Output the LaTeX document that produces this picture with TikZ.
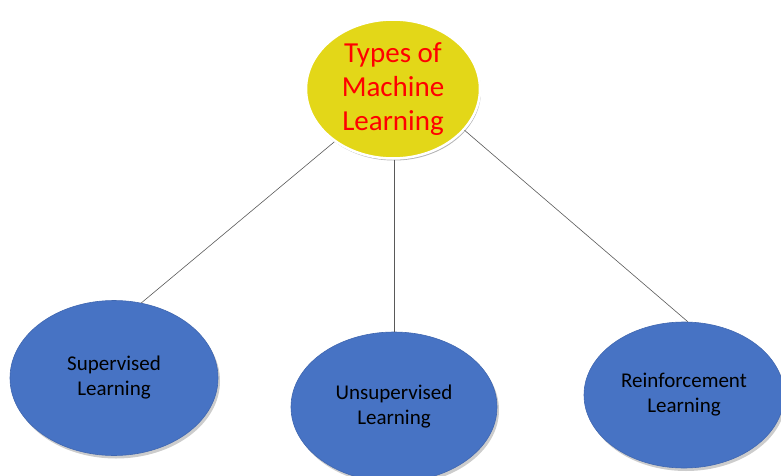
\documentclass[tikz,border=0pt]{standalone}
\usepackage{fontspec}
\setmainfont{Carlito}
\usetikzlibrary{shapes.geometric,shadows}

\definecolor{ballyellow}{HTML}{E3D718}
\definecolor{ballblue}{HTML}{4773C4}
\definecolor{linegray}{HTML}{595959}

\begin{document}
\begin{tikzpicture}[x=1pt,y=1pt]
    \tikzset{topic/.style = {shape=ellipse, draw=white, line width=2.5pt, fill=ballyellow,
        minimum width=174pt, minimum height=139pt, inner sep=0pt, align=center,
        text=red, font=\fontsize{29}{34}\selectfont,
        drop shadow={shadow xshift=1pt, shadow yshift=-2pt, fill=black, opacity=0.3}}}
    \tikzset{branch/.style = {shape=ellipse, fill=ballblue, draw=ballblue!90!black, line width=0.6pt,
        inner sep=0pt, align=center, text=black, font=\fontsize{21}{25}\selectfont,
        drop shadow={shadow xshift=2pt, shadow yshift=-3pt, fill=black, opacity=0.2}}}
    \tikzset{edge/.style = {draw=linegray, line width=0.6pt}}

    \useasboundingbox (0,0) rectangle (781,475);

    % ellipses
    \node[topic] (types) at (393,386) {Types of\\Machine\\Learning};
    \node[branch, minimum width=208pt, minimum height=155pt] (sup) at (114,97) {Supervised\\Learning};
    \node[branch, minimum width=206pt, minimum height=150pt] (uns) at (394,68) {Unsupervised\\Learning};
    \node[branch, minimum width=200pt, minimum height=146pt] (rein) at (684,80) {Reinforcement\\Learning};

    % edges
    \draw[edge] (types.222) to (sup.70);
    \draw[edge] (types.south -| uns.north) to (uns.north);
    \draw[edge] (types.330) to (rein.87);
\end{tikzpicture}
\end{document}
